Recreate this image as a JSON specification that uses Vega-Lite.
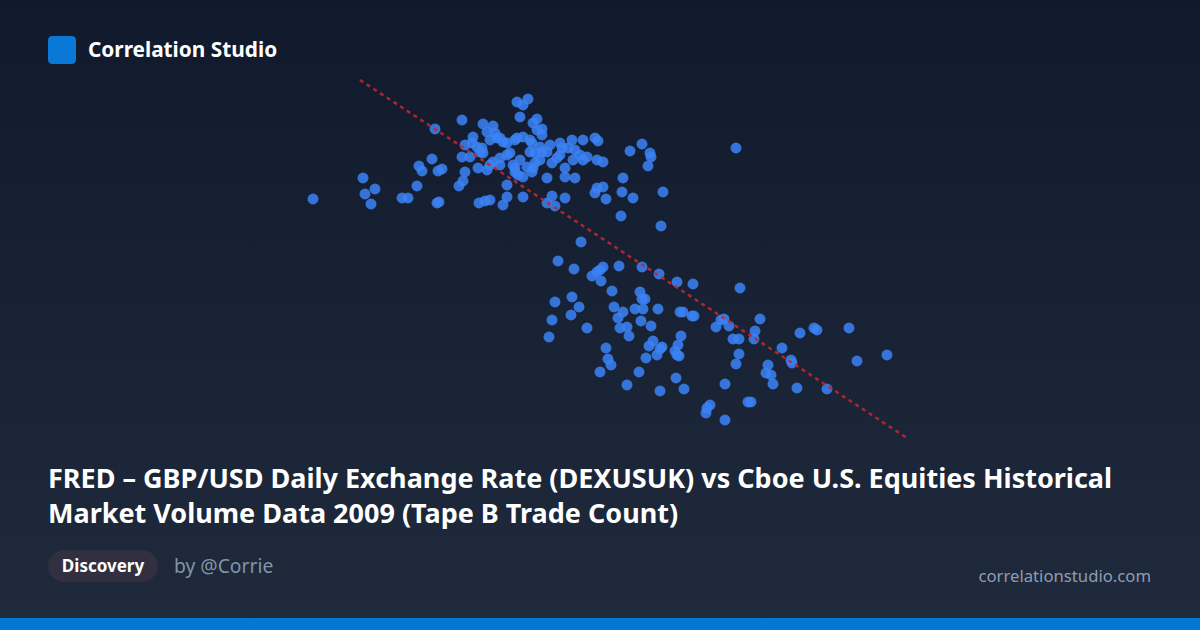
{
  "$schema": "https://vega.github.io/schema/vega-lite/v6.json",
  "width": 1200,
  "height": 630,
  "autosize": {"type": "fit", "contains": "padding"},
  "padding": 0,
  "background": "#141c2f",
  "config": {"view": {"stroke": null}, "font": "Noto Sans"},
  "datasets": {
    "points": [
      {"rate":13,"trades":241},{"rate":63,"trades":262},{"rate":75,"trades":251},{"rate":65,"trades":246},{"rate":71,"trades":236},
      {"rate":102,"trades":242},{"rate":108,"trades":242},{"rate":117,"trades":254},{"rate":119,"trades":274},{"rate":122,"trades":269},
      {"rate":132,"trades":281},{"rate":135,"trades":311},{"rate":138,"trades":269},{"rate":142,"trades":271},{"rate":137,"trades":237},
      {"rate":139,"trades":238},{"rate":159,"trades":254},{"rate":163,"trades":259},{"rate":165,"trades":268},{"rate":162,"trades":320},
      {"rate":217,"trades":338},{"rate":223,"trades":335},{"rate":228,"trades":341},{"rate":220,"trades":323},{"rate":183,"trades":316},
      {"rate":193,"trades":314},{"rate":173,"trades":303},{"rate":187,"trades":308},{"rate":195,"trades":307},{"rate":200,"trades":302},
      {"rate":190,"trades":300},{"rate":207,"trades":297},{"rate":233,"trades":317},{"rate":237,"trades":310},{"rate":217,"trades":302},
      {"rate":223,"trades":303},{"rate":230,"trades":300},{"rate":165,"trades":295},{"rate":172,"trades":297},{"rate":177,"trades":293},
      {"rate":180,"trades":288},{"rate":162,"trades":283},{"rate":170,"trades":283},{"rate":183,"trades":287},{"rate":193,"trades":278},
      {"rate":200,"trades":282},{"rate":207,"trades":285},{"rate":213,"trades":275},{"rate":220,"trades":280},{"rate":227,"trades":273},
      {"rate":235,"trades":277},{"rate":178,"trades":272},{"rate":187,"trades":270},{"rate":190,"trades":275},{"rate":215,"trades":268},
      {"rate":223,"trades":263},{"rate":232,"trades":268},{"rate":207,"trades":255},{"rate":207,"trades":243},{"rate":203,"trades":235},
      {"rate":223,"trades":243},{"rate":179,"trades":237},{"rate":185,"trades":239},{"rate":190,"trades":240},{"rate":182,"trades":292},
      {"rate":197,"trades":302},{"rate":203,"trades":298},{"rate":215,"trades":300},{"rate":232,"trades":297},{"rate":240,"trades":293},
      {"rate":247,"trades":288},{"rate":250,"trades":295},{"rate":260,"trades":297},{"rate":262,"trades":292},{"rate":272,"trades":300},
      {"rate":283,"trades":300},{"rate":295,"trades":302},{"rate":298,"trades":299},{"rate":268,"trades":292},{"rate":275,"trades":290},
      {"rate":280,"trades":285},{"rate":287,"trades":283},{"rate":283,"trades":280},{"rate":297,"trades":280},{"rate":303,"trades":278},
      {"rate":210,"trades":287},{"rate":230,"trades":288},{"rate":240,"trades":280},{"rate":252,"trades":277},{"rate":257,"trades":282},
      {"rate":260,"trades":285},{"rate":215,"trades":272},{"rate":233,"trades":272},{"rate":218,"trades":265},{"rate":200,"trades":275},
      {"rate":247,"trades":262},{"rate":265,"trades":272},{"rate":265,"trades":263},{"rate":275,"trades":262},{"rate":252,"trades":244},
      {"rate":265,"trades":242},{"rate":247,"trades":237},{"rate":255,"trades":234},{"rate":297,"trades":252},{"rate":303,"trades":253},
      {"rate":295,"trades":247},{"rate":306,"trades":241},{"rate":323,"trades":262},{"rate":322,"trades":248},{"rate":333,"trades":242},
      {"rate":321,"trades":224},{"rate":330,"trades":289},{"rate":342,"trades":296},{"rate":350,"trades":287},{"rate":351,"trades":283},
      {"rate":348,"trades":274},{"rate":363,"trades":248},{"rate":242,"trades":311},{"rate":242,"trades":305},{"rate":237,"trades":321},
      {"rate":235,"trades":287},{"rate":242,"trades":288},{"rate":273,"trades":280},{"rate":436,"trades":292},
      {"rate":361,"trades":214},{"rate":281,"trades":198},{"rate":258,"trades":179},{"rate":274,"trades":171},{"rate":303,"trades":173},
      {"rate":300,"trades":170},{"rate":297,"trades":168},{"rate":292,"trades":164},{"rate":301,"trades":159},{"rate":319,"trades":174},
      {"rate":342,"trades":173},{"rate":359,"trades":166},{"rate":377,"trades":158},{"rate":393,"trades":156},{"rate":312,"trades":149},
      {"rate":340,"trades":148},{"rate":342,"trades":141},{"rate":345,"trades":141},{"rate":255,"trades":138},{"rate":272,"trades":143},
      {"rate":279,"trades":133},{"rate":271,"trades":125},{"rate":314,"trades":133},{"rate":323,"trades":128},{"rate":318,"trades":122},
      {"rate":335,"trades":131},{"rate":343,"trades":131},{"rate":358,"trades":131},{"rate":380,"trades":128},{"rate":383,"trades":128},
      {"rate":392,"trades":124},{"rate":394,"trades":124},{"rate":416,"trades":113},{"rate":421,"trades":120},{"rate":424,"trades":121},
      {"rate":429,"trades":114},{"rate":252,"trades":120},{"rate":249,"trades":103},{"rate":287,"trades":112},{"rate":320,"trades":112},
      {"rate":327,"trades":113},{"rate":329,"trades":104},{"rate":341,"trades":119},{"rate":351,"trades":114},{"rate":381,"trades":104},
      {"rate":378,"trades":95},{"rate":375,"trades":89},{"rate":353,"trades":99},{"rate":349,"trades":94},{"rate":362,"trades":93},
      {"rate":360,"trades":91},{"rate":306,"trades":92},{"rate":308,"trades":81},{"rate":311,"trades":75},{"rate":346,"trades":82},
      {"rate":357,"trades":85},{"rate":377,"trades":85},{"rate":379,"trades":84},{"rate":300,"trades":68},{"rate":339,"trades":68},
      {"rate":327,"trades":55},{"rate":360,"trades":49},{"rate":376,"trades":62},{"rate":384,"trades":51},
      {"rate":440,"trades":152},{"rate":460,"trades":121},{"rate":455,"trades":109},{"rate":454,"trades":101},{"rate":433,"trades":101},
      {"rate":439,"trades":101},{"rate":439,"trades":86},{"rate":436,"trades":76},{"rate":500,"trades":107},{"rate":514,"trades":112},
      {"rate":517,"trades":110},{"rate":549,"trades":112},{"rate":482,"trades":92},{"rate":491,"trades":80},{"rate":492,"trades":77},
      {"rate":557,"trades":79},{"rate":587,"trades":85},{"rate":468,"trades":75},{"rate":466,"trades":67},{"rate":471,"trades":65},
      {"rate":473,"trades":56},{"rate":497,"trades":52},{"rate":527,"trades":51},{"rate":425,"trades":56},{"rate":448,"trades":38},
      {"rate":451,"trades":38},{"rate":410,"trades":35},{"rate":407,"trades":32},{"rate":406,"trades":27},{"rate":425,"trades":20}
    ],
    "fit": [{"rate": 60, "trades": 360}, {"rate": 607, "trades": 2}]
  },
  "layer": [
    {
      "data": {"values": [{}]},
      "mark": {"type": "rect", "x": 0, "y": 0, "x2": 1200, "y2": 630,
        "fill": {"gradient": "linear", "x1": 0, "y1": 0, "x2": 0, "y2": 1,
          "stops": [{"offset": 0, "color": "#111a2d"}, {"offset": 1, "color": "#1f2a3c"}]}},
      "encoding": {}
    },
    {
      "data": {"name": "points"},
      "mark": {"type": "circle", "size": 120, "color": "#3b82f6", "opacity": 0.85},
      "encoding": {
        "x": {"field": "rate", "type": "quantitative", "axis": null, "scale": {"domain": [-300, 900], "nice": false, "zero": false}},
        "y": {"field": "trades", "type": "quantitative", "axis": null, "scale": {"domain": [-190, 440], "nice": false, "zero": false}}
      }
    },
    {
      "data": {"name": "fit"},
      "mark": {"type": "line", "color": "#c0272d", "strokeWidth": 2.5, "strokeDash": [4, 4], "opacity": 0.9},
      "encoding": {
        "x": {"field": "rate", "type": "quantitative"},
        "y": {"field": "trades", "type": "quantitative"}
      }
    },
    {
      "data": {"values": [{}]},
      "mark": {"type": "rect", "x": 48, "y": 36, "x2": 76, "y2": 64, "fill": "#0a78d6", "cornerRadius": 4},
      "encoding": {}
    },
    {
      "data": {"values": [{}]},
      "mark": {"type": "text", "x": 88, "y": 57, "text": "Correlation Studio", "font": "Noto Sans", "fontWeight": "bold", "fontSize": 20.8, "color": "#ffffff", "align": "left", "baseline": "alphabetic"},
      "encoding": {}
    },
    {
      "data": {"values": [{}]},
      "mark": {"type": "text", "x": 48, "y": 488, "text": ["FRED – GBP/USD Daily Exchange Rate (DEXUSUK) vs Cboe U.S. Equities Historical", "Market Volume Data 2009 (Tape B Trade Count)"], "lineHeight": 35, "font": "Noto Sans", "fontWeight": "bold", "fontSize": 27, "color": "#ffffff", "align": "left", "baseline": "alphabetic"},
      "encoding": {}
    },
    {
      "data": {"values": [{}]},
      "mark": {"type": "rect", "x": 48, "y": 550, "x2": 158, "y2": 582, "fill": "#312f40", "cornerRadius": 16},
      "encoding": {}
    },
    {
      "data": {"values": [{}]},
      "mark": {"type": "text", "x": 103, "y": 572, "text": "Discovery", "font": "Noto Sans", "fontWeight": "bold", "fontSize": 17, "color": "#ffffff", "align": "center", "baseline": "alphabetic"},
      "encoding": {}
    },
    {
      "data": {"values": [{}]},
      "mark": {"type": "text", "x": 174, "y": 573, "text": "by @Corrie", "font": "Noto Sans", "fontSize": 19.3, "color": "#8393aa", "align": "left", "baseline": "alphabetic"},
      "encoding": {}
    },
    {
      "data": {"values": [{}]},
      "mark": {"type": "text", "x": 1151, "y": 582, "text": "correlationstudio.com", "font": "Noto Sans", "fontSize": 16.7, "color": "#8d9db2", "align": "right", "baseline": "alphabetic"},
      "encoding": {}
    },
    {
      "data": {"values": [{}]},
      "mark": {"type": "rect", "x": 0, "y": 618, "x2": 1200, "y2": 630, "fill": "#0477d4"},
      "encoding": {}
    }
  ]
}
